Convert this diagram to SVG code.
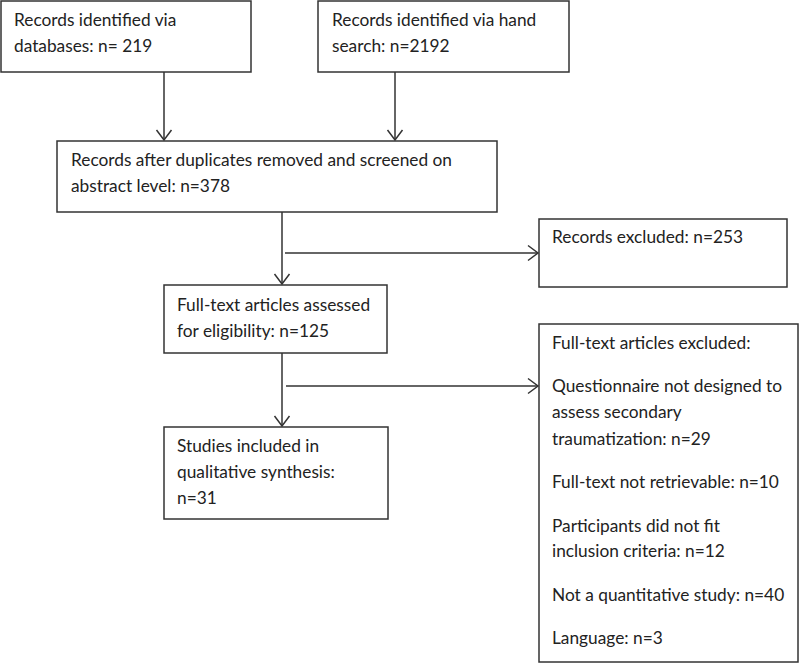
<svg xmlns="http://www.w3.org/2000/svg" width="800" height="663" viewBox="0 0 800 663">
<defs>
<style>
.box{fill:#fff;stroke:#333;stroke-width:1.5}
.t{font-family:Lato,"Liberation Sans",sans-serif;font-size:17.3px;fill:#222}
.c{stroke:#333;stroke-width:1.5;fill:none}
</style>
<marker id="ah" markerUnits="userSpaceOnUse" markerWidth="20" markerHeight="20" viewBox="0 0 20 20" refX="12" refY="10" orient="auto">
<path d="M2,2.5 L12,10 L2,17.5" fill="none" stroke="#333" stroke-width="1.5"/>
</marker>
</defs>
<rect width="800" height="663" fill="#fff"/>
<g id="connectors">
<line class="c" x1="164" y1="72" x2="164" y2="140" marker-end="url(#ah)"/>
<line class="c" x1="395" y1="72" x2="395" y2="140" marker-end="url(#ah)"/>
<line class="c" x1="282" y1="212" x2="282" y2="284" marker-end="url(#ah)"/>
<line class="c" x1="285" y1="253" x2="538" y2="253" marker-end="url(#ah)"/>
<line class="c" x1="282" y1="353" x2="282" y2="426" marker-end="url(#ah)"/>
<line class="c" x1="286" y1="386" x2="538" y2="386" marker-end="url(#ah)"/>
</g>
<g id="db">
<rect class="box" x="1" y="1" width="250" height="71"/>
<text class="t" x="14" y="26">Records identified via</text>
<text class="t" x="14" y="52">databases: n= 219</text>
</g>
<g id="hand">
<rect class="box" x="318" y="1" width="251" height="71"/>
<text class="t" x="332" y="26">Records identified via hand</text>
<text class="t" x="332" y="52">search: n=2192</text>
</g>
<g id="screened">
<rect class="box" x="57" y="141" width="440" height="71"/>
<text class="t" x="71" y="166">Records after duplicates removed and screened on</text>
<text class="t" x="71" y="192">abstract level: n=378</text>
</g>
<g id="excluded1">
<rect class="box" x="539" y="219" width="248" height="68"/>
<text class="t" x="552" y="243">Records excluded: n=253</text>
</g>
<g id="fulltext">
<rect class="box" x="164" y="285" width="223" height="68"/>
<text class="t" x="177" y="311">Full-text articles assessed</text>
<text class="t" x="177" y="337">for eligibility: n=125</text>
</g>
<g id="included">
<rect class="box" x="164" y="427" width="224" height="92"/>
<text class="t" x="177" y="452">Studies included in</text>
<text class="t" x="177" y="478">qualitative synthesis:</text>
<text class="t" x="177" y="504">n=31</text>
</g>
<g id="excluded2">
<rect class="box" x="539" y="324" width="259" height="338"/>
<text class="t" x="552" y="349">Full-text articles excluded:</text>
<text class="t" x="552" y="392">Questionnaire not designed to</text>
<text class="t" x="552" y="418">assess secondary</text>
<text class="t" x="552" y="445">traumatization: n=29</text>
<text class="t" x="552" y="488">Full-text not retrievable: n=10</text>
<text class="t" x="552" y="532">Participants did not fit</text>
<text class="t" x="552" y="557">inclusion criteria: n=12</text>
<text class="t" x="552" y="601">Not a quantitative study: n=40</text>
<text class="t" x="552" y="644">Language: n=3</text>
</g>
</svg>
